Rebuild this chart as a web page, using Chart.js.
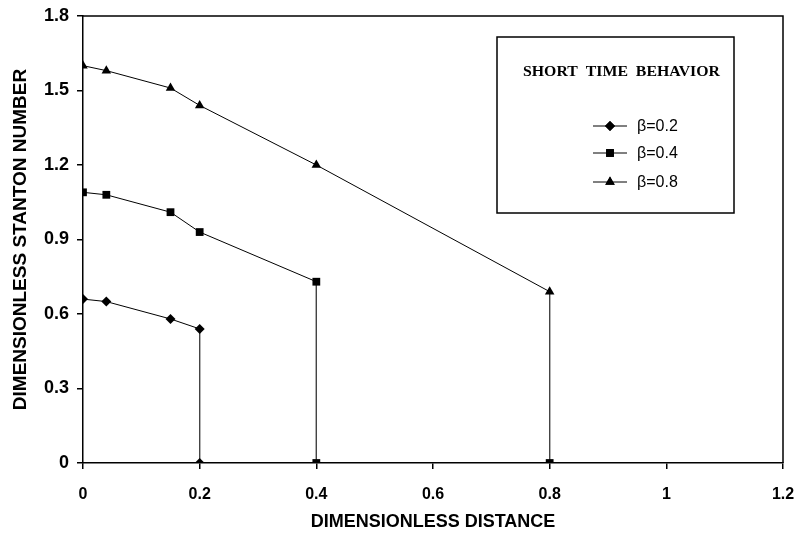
<!DOCTYPE html>
<html>
<head>
<meta charset="utf-8">
<script src="https://cdn.jsdelivr.net/npm/chart.js@4/dist/chart.umd.min.js"></script>
<style>
  html, body { margin: 0; padding: 0; background: #fff; }
  #wrap { width: 801px; height: 535px; }
</style>
</head>
<body>
<div id="wrap"><canvas id="c" width="801" height="535"></canvas></div>
<script>
// Stanton number profiles along the surface, short time behavior
const distanceB02 = [0, 0.04, 0.15, 0.2, 0.2];
const stantonB02  = [0.66, 0.65, 0.58, 0.54, 0];
const distanceB04 = [0, 0.04, 0.15, 0.2, 0.4, 0.4];
const stantonB04  = [1.09, 1.08, 1.01, 0.93, 0.73, 0];
const distanceB08 = [0, 0.04, 0.15, 0.2, 0.4, 0.8, 0.8];
const stantonB08  = [1.6, 1.58, 1.51, 1.44, 1.2, 0.69, 0];

const seriesLabels = ['\u03b2=0.2', '\u03b2=0.4', '\u03b2=0.8'];
const legendTitle = 'SHORT  TIME  BEHAVIOR';
const xTitle = 'DIMENSIONLESS DISTANCE';
const yTitle = 'DIMENSIONLESS STANTON NUMBER';

const toPoints = (xs, ys) => xs.map((x, i) => ({ x: x, y: ys[i] }));

// drop segments (same x) are drawn a little lighter
const segmentColor = ctx => ctx.p0.parsed.x === ctx.p1.parsed.x ? '#444' : '#000';

function series(label, xs, ys, style, radius) {
  return {
    label: label,
    data: toPoints(xs, ys),
    borderColor: '#000',
    backgroundColor: '#000',
    borderWidth: 1,
    pointStyle: style,
    pointRadius: radius,
    pointBorderWidth: 0,
    pointBackgroundColor: '#000',
    showLine: true,
    tension: 0,
    segment: { borderColor: segmentColor }
  };
}

const datasets = [
  series(seriesLabels[0], distanceB02, stantonB02, 'rectRot', 5),
  series(seriesLabels[1], distanceB04, stantonB04, 'rect', 5.5),
  series(seriesLabels[2], distanceB08, stantonB08,
    distanceB08.map((x, i) => i === distanceB08.length - 1 ? 'rect' : 'triangle'), 5.5)
];

// plot frame plus the boxed legend inside the plot
const framePlugin = {
  id: 'frame',
  afterDraw(chart) {
    const { ctx, chartArea: a } = chart;
    ctx.save();
    ctx.strokeStyle = '#000';
    ctx.lineWidth = 1.5;
    ctx.beginPath();
    ctx.moveTo(a.left, a.top);
    ctx.lineTo(a.right, a.top);
    ctx.lineTo(a.right, a.bottom);
    ctx.stroke();

    // legend box
    const bx = 497, by = 37, bw = 237, bh = 176;
    ctx.fillStyle = '#fff';
    ctx.fillRect(bx, by, bw, bh);
    ctx.lineWidth = 1.5;
    ctx.strokeRect(bx, by, bw, bh);

    // legend heading, stretched to its box width
    ctx.fillStyle = '#000';
    ctx.font = 'bold 14px "Liberation Serif", "Times New Roman", serif';
    ctx.textAlign = 'left';
    ctx.textBaseline = 'middle';
    const tw = ctx.measureText(legendTitle).width;
    ctx.save();
    ctx.translate(523, 72);
    ctx.scale(197 / tw, 1);
    ctx.fillText(legendTitle, 0, 0);
    ctx.restore();

    const rows = [126, 153, 182];
    chart.data.datasets.forEach((ds, i) => {
      const y = rows[i];
      ctx.strokeStyle = '#000';
      ctx.lineWidth = 1;
      ctx.beginPath();
      ctx.moveTo(593, y);
      ctx.lineTo(627, y);
      ctx.stroke();
      const st = Array.isArray(ds.pointStyle) ? ds.pointStyle[0] : ds.pointStyle;
      Chart.helpers.drawPoint(ctx, { pointStyle: st, radius: ds.pointRadius, borderWidth: 0, rotation: 0 }, 610, y);
      ctx.fillStyle = '#000';
      ctx.fill();
      ctx.font = '16px "Liberation Sans", Arial, sans-serif';
      ctx.textAlign = 'left';
      ctx.fillText(ds.label, 637, y + 1);
    });
    ctx.restore();
  }
};

const fmt = v => String(Number(v.toFixed(1)));
const sans = '"Liberation Sans", Arial, sans-serif';

new Chart(document.getElementById('c'), {
  type: 'scatter',
  data: { datasets: datasets },
  options: {
    responsive: false,
    animation: false,
    events: [],
    layout: { padding: { left: 0, right: 18, top: 16, bottom: 0 } },
    plugins: { legend: { display: false }, tooltip: { enabled: false } },
    scales: {
      x: {
        type: 'linear',
        min: 0, max: 1.2,
        afterFit(s) { s.height = 72; s.paddingLeft = 0; s.paddingRight = 0; },
        ticks: {
          stepSize: 0.2,
          color: '#000',
          padding: 16,
          font: { family: sans, size: 16, weight: 'bold' },
          callback: fmt
        },
        grid: { drawOnChartArea: false, color: '#000', tickLength: 6, lineWidth: 1.5 },
        border: { color: '#000', width: 1.5 },
        title: {
          display: true,
          text: xTitle,
          color: '#000',
          padding: { top: 0, bottom: 2 },
          font: { family: sans, size: 18, weight: 'bold' }
        }
      },
      y: {
        type: 'linear',
        min: 0, max: 1.8,
        afterFit(s) { s.width = 83; s.paddingTop = 0; s.paddingBottom = 0; },
        ticks: {
          stepSize: 0.3,
          color: '#000',
          padding: 8,
          font: { family: sans, size: 18, weight: 'bold' },
          callback: fmt
        },
        grid: { drawOnChartArea: false, color: '#000', tickLength: 6, lineWidth: 1.5 },
        border: { color: '#000', width: 1.5 },
        title: {
          display: true,
          text: yTitle,
          color: '#000',
          padding: { top: 9, bottom: 0 },
          font: { family: sans, size: 19, weight: 'bold' }
        }
      }
    }
  },
  plugins: [framePlugin]
});
</script>
</body>
</html>
